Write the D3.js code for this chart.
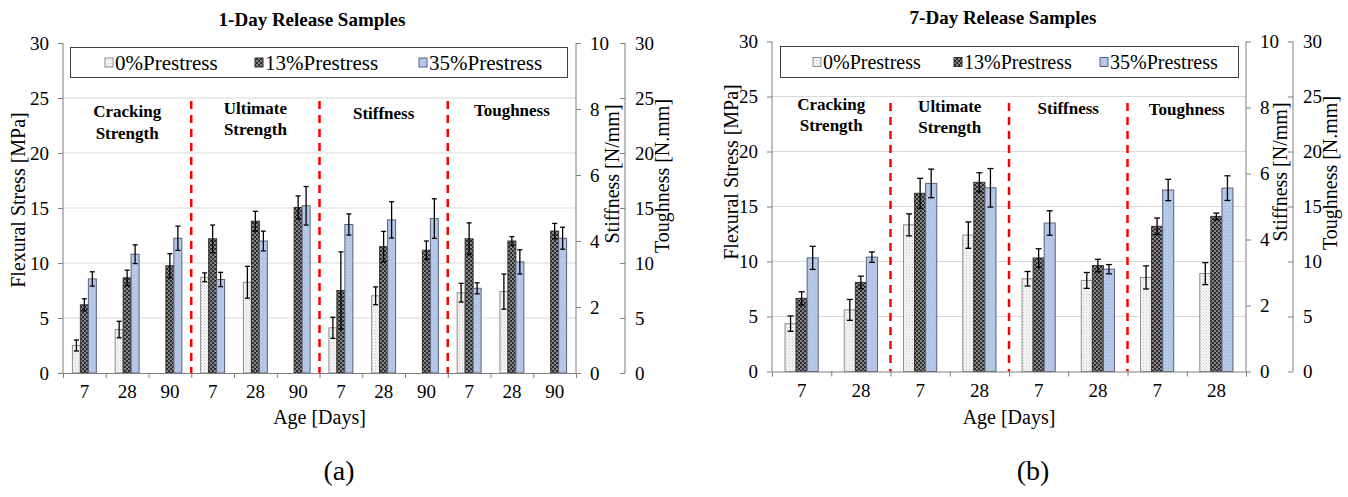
<!DOCTYPE html>
<html>
<head>
<meta charset="utf-8">
<script src="https://cdn.jsdelivr.net/npm/d3@7"></script>
<style>
body { margin: 0; background: #fff; }
</style>
</head>
<body>
<svg id="fig" width="1348" height="497"></svg>
<script>
var SERIF = "'Liberation Serif', 'Times New Roman', serif";

// shared stuff
var groups = ["Cracking Strength", "Ultimate Strength", "Stiffness", "Toughness"];
var groupAxis = ["stress", "stress", "stiffness", "toughness"];
var series = ["0%Prestress", "13%Prestress", "35%Prestress"];
var stressTicks = [0, 5, 10, 15, 20, 25, 30];
var stiffTicks = [0, 2, 4, 6, 8, 10];
var toughTicks = [0, 5, 10, 15, 20, 25, 30];

// (a) 1-day release, ages 7/28/90 in each group
var ages1 = ["7", "28", "90"];
var day1_p0 = [2.5, 3.95, null, 8.7, 8.25, null, 1.37, 2.34, null, 7.3, 7.4, null];
var day1_p0_err = [0.5, 0.75, null, 0.4, 1.45, null, 0.32, 0.27, null, 0.85, 1.6, null];
var day1_p13 = [6.2, 8.65, 9.75, 12.2, 13.8, 15.05, 2.5, 3.83, 3.72, 12.2, 12.0, 12.9];
var day1_p13_err = [0.55, 0.7, 1.1, 1.25, 0.9, 1.05, 1.17, 0.46, 0.28, 1.45, 0.4, 0.7];
var day1_p35 = [8.55, 10.8, 12.25, 8.5, 12.0, 15.2, 4.5, 4.64, 4.68, 7.7, 10.1, 12.25];
var day1_p35_err = [0.65, 0.85, 1.1, 0.65, 0.9, 1.75, 0.32, 0.55, 0.6, 0.5, 1.1, 1.0];

// (b) 7-day release, ages 7/28
var ages7 = ["7", "28"];
var day7_p0 = [4.35, 5.6, 13.33, 12.4, 2.81, 2.76, 8.55, 8.9];
var day7_p0_err = [0.7, 0.95, 1.0, 1.2, 0.22, 0.24, 1.05, 1.0];
var day7_p13 = [6.65, 8.1, 16.2, 17.2, 3.44, 3.21, 13.2, 14.1];
var day7_p13_err = [0.6, 0.57, 1.36, 0.87, 0.28, 0.19, 0.75, 0.3];
var day7_p35 = [10.33, 10.4, 17.1, 16.7, 4.5, 3.1, 16.5, 16.67];
var day7_p35_err = [1.05, 0.47, 1.3, 1.75, 0.37, 0.14, 0.97, 1.12];

var svg = d3.select("#fig");
svg.append("rect").attr("width", 1348).attr("height", 497).attr("fill", "#fff");

// bar fills
var defs = svg.append("defs");
var p0 = defs.append("pattern").attr("id", "pat0").attr("patternUnits", "userSpaceOnUse")
    .attr("width", 3).attr("height", 3);
p0.append("rect").attr("width", 3).attr("height", 3).attr("fill", "#f6f6f6");
p0.append("rect").attr("width", 1).attr("height", 1).attr("fill", "#c8c8c8");
p0.append("rect").attr("x", 1.5).attr("y", 1.5).attr("width", 1).attr("height", 1).attr("fill", "#dcdcdc");

var p13 = defs.append("pattern").attr("id", "pat13").attr("patternUnits", "userSpaceOnUse")
    .attr("width", 4).attr("height", 4);
p13.append("rect").attr("width", 4).attr("height", 4).attr("fill", "#7a7a7a");
p13.append("path").attr("d", "M0,4L4,0M-1,1L1,-1M3,5L5,3").attr("stroke", "#1e1e1e").attr("stroke-width", 1.6);
p13.append("path").attr("d", "M0,0L4,4").attr("stroke", "#cfcfcf").attr("stroke-width", 0.6);

var p35 = defs.append("pattern").attr("id", "pat35").attr("patternUnits", "userSpaceOnUse")
    .attr("width", 3).attr("height", 3);
p35.append("rect").attr("width", 3).attr("height", 3).attr("fill", "#b3c5e6");
p35.append("rect").attr("width", 1).attr("height", 1).attr("fill", "#c6d4ee");

var fills = ["url(#pat0)", "url(#pat13)", "url(#pat35)"];
var strokes = ["#8e8e8e", "#333333", "#56627c"];

function drawChart(cfg) {
  var g = svg.append("g");
  var n = cfg.ages.length * groups.length;
  var x = d3.scaleBand().domain(d3.range(n)).range([cfg.x0, cfg.x1]);
  var xb = d3.scaleLinear().domain([0, n]).range([cfg.x0, cfg.x1]);
  var bw = x.bandwidth();
  var sub = d3.scaleBand().domain(d3.range(3)).range([bw * 0.22, bw * 0.78]);
  var yStress = d3.scaleLinear().domain([0, 30]).range([cfg.y0, cfg.y1]);
  var yStiff = d3.scaleLinear().domain([0, 10]).range([cfg.y0, cfg.y1]);
  var yTough = d3.scaleLinear().domain([0, 30]).range([cfg.y0, cfg.y1]);
  var yFor = { stress: yStress, stiffness: yStiff, toughness: yTough };

  // gridlines
  g.selectAll(".grid").data(stressTicks.slice(1, -1)).enter().append("line")
      .attr("x1", cfg.x0).attr("x2", cfg.x1)
      .attr("y1", d => yStress(d)).attr("y2", d => yStress(d))
      .attr("stroke", "#d9d9d9").attr("stroke-width", 1);

  // bars + error bars
  var recs = [];
  cfg.values.forEach(function(vals, s) {
    vals.forEach(function(v, i) {
      if (v == null) return;
      var gi = Math.floor(i / cfg.ages.length);
      recs.push({ s: s, i: i, v: v, e: cfg.errors[s][i], y: yFor[groupAxis[gi]] });
    });
  });

  g.selectAll(".bar").data(recs).enter().append("rect")
      .attr("x", d => x(d.i) + sub(d.s))
      .attr("y", d => d.y(d.v))
      .attr("width", sub.bandwidth())
      .attr("height", d => cfg.y0 - d.y(d.v))
      .attr("fill", d => fills[d.s])
      .attr("stroke", d => strokes[d.s]).attr("stroke-width", 1);

  var eb = g.selectAll(".err").data(recs).enter().append("g")
      .attr("stroke", "#000").attr("stroke-width", 1.3);
  eb.append("line")
      .attr("x1", d => x(d.i) + sub(d.s) + sub.bandwidth() / 2)
      .attr("x2", d => x(d.i) + sub(d.s) + sub.bandwidth() / 2)
      .attr("y1", d => d.y(d.v - d.e)).attr("y2", d => d.y(d.v + d.e));
  [-1, 1].forEach(function(k) {
    eb.append("line")
        .attr("x1", d => x(d.i) + sub(d.s) + sub.bandwidth() / 2 - cfg.cap)
        .attr("x2", d => x(d.i) + sub(d.s) + sub.bandwidth() / 2 + cfg.cap)
        .attr("y1", d => d.y(d.v + k * d.e)).attr("y2", d => d.y(d.v + k * d.e));
  });

  // red dashed group separators
  g.selectAll(".sep").data(d3.range(1, groups.length)).enter().append("line")
      .attr("x1", d => xb(d * cfg.ages.length)).attr("x2", d => xb(d * cfg.ages.length))
      .attr("y1", cfg.sepTop).attr("y2", cfg.y0)
      .attr("stroke", "#ff0000").attr("stroke-width", 2.5).attr("stroke-dasharray", "8,6");

  // group labels
  groups.forEach(function(name, gi) {
    var cx = xb((gi + 0.5) * cfg.ages.length);
    var lines = name.split(" ");
    var t = g.append("text").attr("text-anchor", "middle").style("font-family", SERIF)
        .attr("font-weight", "bold").attr("font-size", 17);
    lines.forEach(function(w, k) {
      t.append("tspan").attr("x", cx).attr("y", cfg.labelY[gi][k]).attr("dy", "0.35em").text(w);
    });
  });

  // axes
  var axisColor = "#7f7f7f";
  var left = g.append("g").attr("transform", "translate(" + cfg.x0 + ",0)")
      .call(d3.axisLeft(yStress).tickValues(stressTicks).tickSize(5).tickPadding(9));
  var stiff = g.append("g").attr("transform", "translate(" + cfg.x1 + ",0)")
      .call(d3.axisRight(yStiff).tickValues(stiffTicks).tickSize(5).tickPadding(9));
  var tough = g.append("g").attr("transform", "translate(" + cfg.xT + ",0)")
      .call(d3.axisRight(yTough).tickValues(toughTicks).tickSize(-5).tickPadding(10));
  var bottomLab = g.append("g").attr("transform", "translate(0," + cfg.y0 + ")")
      .call(d3.axisBottom(x).tickSize(0).tickPadding(12).tickFormat(i => cfg.ages[i % cfg.ages.length]));
  var bottomTk = g.append("g").attr("transform", "translate(0," + cfg.y0 + ")")
      .call(d3.axisBottom(xb).tickValues(d3.range(n + 1)).tickSize(5).tickFormat(""));
  bottomLab.select(".domain").remove();

  [left, stiff, tough, bottomTk].forEach(function(a) {
    a.selectAll("path,line").attr("stroke", axisColor);
  });
  [left, stiff, tough, bottomLab].forEach(function(a) {
    a.attr("font-family", null).attr("font-size", null);
    a.selectAll("text").attr("fill", "#000")
        .style("font-family", SERIF).style("font-size", "19px");
  });
  [left, stiff, tough].forEach(function(a) {
    a.select(".domain").attr("d", null);
    a.append("line").attr("y1", cfg.y1).attr("y2", cfg.y0).attr("stroke", axisColor);
  });

  // axis titles
  function vtitle(txt, tx, ty) {
    g.append("text").attr("transform", "translate(" + tx + "," + ty + ") rotate(-90)")
        .style("font-family", SERIF)
        .attr("text-anchor", "middle").attr("dy", "0.35em").attr("font-size", 20).text(txt);
  }
  vtitle("Flexural Stress [MPa]", cfg.yTitle[0], cfg.yTitle[1]);
  vtitle("Stiffness [N/mm]", cfg.sTitle[0], cfg.sTitle[1]);
  vtitle("Toughness [N.mm]", cfg.tTitle[0], cfg.tTitle[1]);

  g.append("text").attr("x", (cfg.x0 + cfg.x1) / 2).attr("y", 417).attr("dy", "0.35em")
      .style("font-family", SERIF)
      .attr("text-anchor", "middle").attr("font-size", 20).text("Age [Days]");

  g.append("text").attr("x", cfg.titleX).attr("y", cfg.titleY).attr("dy", "0.35em")
      .style("font-family", SERIF)
      .attr("text-anchor", "middle").attr("font-size", 19).attr("font-weight", "bold").text(cfg.title);

  g.append("text").attr("x", cfg.tag[0]).attr("y", 470).attr("dy", "0.35em")
      .style("font-family", SERIF)
      .attr("text-anchor", "middle").attr("font-size", 28).text(cfg.tag[1]);

  // legend
  var lg = cfg.legend;
  g.append("rect").attr("x", lg.x).attr("y", lg.y).attr("width", lg.w).attr("height", lg.h)
      .attr("fill", "#fff").attr("stroke", "#404040").attr("stroke-width", 1);
  series.forEach(function(s, k) {
    g.append("rect").attr("x", lg.sx[k]).attr("y", lg.y + lg.h / 2 - 4.5)
        .attr("width", 8).attr("height", 9)
        .attr("fill", fills[k]).attr("stroke", strokes[k]).attr("stroke-width", 1);
    g.append("text").attr("x", lg.sx[k] + 10).attr("y", lg.y + lg.h / 2).attr("dy", "0.35em")
        .style("font-family", SERIF)
        .attr("font-size", lg.fs).text(s);
  });
}

drawChart({
  ages: ages1,
  values: [day1_p0, day1_p13, day1_p35],
  errors: [day1_p0_err, day1_p13_err, day1_p35_err],
  x0: 63, x1: 576, xT: 625, y0: 373, y1: 43,
  cap: 2.5, sepTop: 101,
  labelY: [[111, 133], [108, 129], [113], [110]],
  yTitle: [18, 200], sTitle: [612, 174], tTitle: [662, 176],
  title: "1-Day Release Samples", titleX: 312, titleY: 19,
  tag: [339, "(a)"],
  legend: { x: 70.5, y: 47.5, w: 497, h: 30, sx: [105, 255, 419], fs: 21 }
});

drawChart({
  ages: ages7,
  values: [day7_p0, day7_p13, day7_p35],
  errors: [day7_p0_err, day7_p13_err, day7_p35_err],
  x0: 772, x1: 1246, xT: 1293, y0: 371.5, y1: 41.5,
  cap: 3, sepTop: 103,
  labelY: [[104, 125], [106, 127], [108], [109]],
  yTitle: [731, 172], sTitle: [1280, 172], tTitle: [1330, 173],
  title: "7-Day Release Samples", titleX: 1003, titleY: 17,
  tag: [1033, "(b)"],
  legend: { x: 780.5, y: 46.5, w: 458, h: 31, sx: [813, 954, 1100], fs: 20 }
});
</script>
</body>
</html>
